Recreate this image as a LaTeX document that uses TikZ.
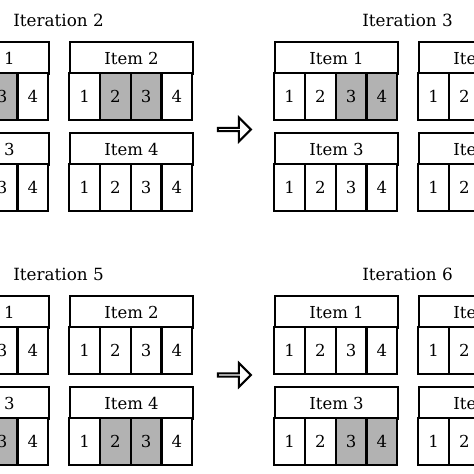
\documentclass[tikz,border=0pt]{standalone}
\usepackage{fontspec}
\setmainfont{DejaVu Serif}
\usepackage{xcolor}
\usetikzlibrary{shapes.arrows}
\definecolor{cellgray}{gray}{0.70}
\tikzset{
  itemhead/.style  = {draw,line width=2pt,minimum width=123pt,minimum height=32pt,inner sep=0pt,anchor=north west},
  itemcell/.style  = {minimum width=30.75pt,minimum height=47pt,inner sep=0pt,anchor=north west},
  cellline/.style  = {draw,line width=2pt},
  iterlabel/.style = {font=\fontsize{16.8}{19}\selectfont},
  steparrow/.style = {single arrow,draw,line width=2pt,fill=white,minimum width=24pt,
                      minimum height=33pt,single arrow head extend=6pt,inner sep=0pt}
}
% one item: name, x, y (top left), label, shaded cells (0 = none)
\newcommand{\itembox}[5]{%
  \node[itemhead] (#1) at (#2,#3) {#4};
  \foreach \c in {1,...,4} {
    \gdef\cellfill{white}
    \foreach \s in {#5} {\ifnum\c=\s\relax\gdef\cellfill{cellgray}\fi}
    \node[itemcell,fill=\cellfill] (#1-\c) at (#2+30.75*\c-30.75,#3+32) {\c};
  }
  \foreach \c in {1,...,4}
    \draw[cellline] (#1-\c.north west) rectangle (#1-\c.south east);
}
% one iteration: name, x, y, label, shaded cells of items 1..4
\newcommand{\iteration}[8]{%
  \node[iterlabel] (#1) at (#2+133.5,#3-21) {#4};
  \itembox{#1-i1}{#2}{#3}{Item 1}{#5}
  \itembox{#1-i2}{#2+144}{#3}{Item 2}{#6}
  \itembox{#1-i3}{#2}{#3+91}{Item 3}{#7}
  \itembox{#1-i4}{#2+144}{#3+91}{Item 4}{#8}
}

\begin{document}
\begin{tikzpicture}[x=1pt,y=-1pt,font=\fontsize{16.5}{19}\selectfont]
  \useasboundingbox (0,0) rectangle (474,474);
  \clip (0,0) rectangle (474,474);
  \iteration{it2}{-75}{41}{Iteration 2}{3}{2,3}{0}{0}
  \iteration{it3}{274}{41}{Iteration 3}{3,4}{0}{0}{0}
  \iteration{it5}{-75}{295}{Iteration 5}{0}{0}{3}{2,3}
  \iteration{it6}{274}{295}{Iteration 6}{0}{0}{3,4}{0}
  \node[steparrow] (a1) at (233.5,129.5) {};
  \node[steparrow] (a2) at (233.5,375) {};
\end{tikzpicture}
\end{document}
